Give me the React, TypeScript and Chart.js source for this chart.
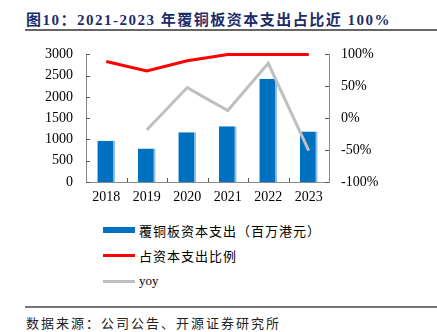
import React, { useEffect, useRef } from "react";
import { Chart, registerables } from "chart.js";

Chart.register(...registerables);

const years = ["2018", "2019", "2020", "2021", "2022", "2023"];
const capex = [970, 790, 1170, 1310, 2430, 1190];
const share = [89, 74, 90, 100, 100, 100];
const yoy: (number | null)[] = [null, -18.5, 48, 12, 86, -51];
const leftTicks = [0, 500, 1000, 1500, 2000, 2500, 3000];
const rightTicks = [-100, -50, 0, 50, 100];
const seriesNames = ["覆铜板资本支出（百万港元）", "占资本支出比例", "yoy"];

const BLUE = "#0070C0";
const RED = "#FF0000";
const GRAY = "#BFBFBF";
const AXIS = "#8c8c8c";
const SERIF = "'Liberation Serif', 'Noto Sans CJK SC', serif";
const CJK = "'Noto Sans CJK SC', 'Liberation Serif', serif";

const innerTicks = {
  id: "innerTicks",
  afterDraw(chart: any) {
    const { ctx, chartArea, scales } = chart;
    ctx.save();
    ctx.strokeStyle = "#555";
    ctx.lineWidth = 1;
    const yl = scales.y;
    yl.ticks.forEach((_: any, i: number) => {
      const y = Math.round(yl.getPixelForTick(i)) + 0.5;
      ctx.beginPath();
      ctx.moveTo(chartArea.left, y);
      ctx.lineTo(chartArea.left + 4, y);
      ctx.stroke();
    });
    const yr = scales.y1;
    yr.ticks.forEach((_: any, i: number) => {
      const y = Math.round(yr.getPixelForTick(i)) + 0.5;
      ctx.beginPath();
      ctx.moveTo(chartArea.right, y);
      ctx.lineTo(chartArea.right - 4, y);
      ctx.stroke();
    });
    const xs = scales.x;
    for (let i = 1; i < years.length; i++) {
      const x = Math.round(xs.getPixelForValue(i - 0.5)) + 0.5;
      ctx.beginPath();
      ctx.moveTo(x, chartArea.bottom);
      ctx.lineTo(x, chartArea.bottom - 4);
      ctx.stroke();
    }
    ctx.restore();
  },
};

export default function App() {
  const ref = useRef<HTMLCanvasElement>(null);

  useEffect(() => {
    if (!ref.current) return;
    const chart = new Chart(ref.current, {
      type: "bar",
      data: {
        labels: years,
        datasets: [
          {
            type: "line",
            label: seriesNames[1],
            data: share,
            yAxisID: "y1",
            borderColor: RED,
            backgroundColor: RED,
            borderWidth: 3,
            pointRadius: 0,
            tension: 0,
            clip: false as any,
            order: 1,
          },
          {
            type: "line",
            label: seriesNames[2],
            data: yoy,
            yAxisID: "y1",
            borderColor: GRAY,
            backgroundColor: GRAY,
            borderWidth: 3,
            pointRadius: 0,
            tension: 0,
            spanGaps: false,
            order: 1,
          },
          {
            type: "bar",
            label: seriesNames[0],
            data: capex,
            yAxisID: "y",
            backgroundColor: BLUE,
            borderColor: "#8fbde6",
            borderWidth: { top: 0, left: 0, bottom: 0, right: 2 } as any,
            borderSkipped: false as any,
            categoryPercentage: 1,
            barPercentage: 0.44,
            order: 2,
          },
        ],
      },
      options: {
        responsive: false,
        animation: false,
        devicePixelRatio: 1,
        layout: { padding: { top: 8, bottom: 0, left: 0, right: 0 } },
        plugins: {
          legend: { display: false },
          tooltip: { enabled: false },
          title: { display: false },
        },
        scales: {
          x: {
            offset: true,
            grid: { display: false, drawTicks: false },
            border: { display: true, color: AXIS, width: 1 },
            ticks: {
              color: "#000",
              font: { family: SERIF, size: 14 },
              padding: 7,
              maxRotation: 0,
            },
            afterFit(scale: any) {
              scale.height = 33;
            },
          },
          y: {
            position: "left",
            min: 0,
            max: 3000,
            afterBuildTicks(scale: any) {
              scale.ticks = leftTicks.map((v) => ({ value: v }));
            },
            grid: { display: false, drawTicks: false },
            border: { display: true, color: AXIS, width: 1 },
            ticks: {
              color: "#000",
              font: { family: SERIF, size: 14 },
              padding: 13,
              callback: (v: any) => String(v),
            },
            afterFit(scale: any) {
              scale.width = 86;
            },
          },
          y1: {
            position: "right",
            min: -100,
            max: 100,
            afterBuildTicks(scale: any) {
              scale.ticks = rightTicks.map((v) => ({ value: v }));
            },
            grid: { display: false, drawTicks: false },
            border: { display: true, color: AXIS, width: 1 },
            ticks: {
              color: "#000",
              font: { family: SERIF, size: 14 },
              padding: 12,
              callback: (v: any) => `${v}%`,
            },
            afterFit(scale: any) {
              scale.width = 108;
            },
          },
        },
      },
      plugins: [innerTicks],
    });
    return () => chart.destroy();
  }, []);

  const legendItem = (i: number, top: number) => {
    const swatch =
      i === 0
        ? { height: 6, background: BLUE }
        : { height: 3, background: i === 1 ? RED : GRAY };
    return (
      <div
        key={i}
        style={{
          position: "absolute",
          left: 103,
          top: top - 10,
          height: 20,
          display: "flex",
          alignItems: "center",
        }}
      >
        <div style={{ width: 32, ...swatch }} />
        <span
          style={{
            marginLeft: 4,
            fontFamily: i === 2 ? SERIF : CJK,
            fontSize: 13,
            letterSpacing: i === 2 ? 0 : 1,
            color: "#000",
            whiteSpace: "nowrap",
          }}
        >
          {seriesNames[i]}
        </span>
      </div>
    );
  };

  return (
    <div
      style={{
        position: "fixed",
        left: 0,
        top: 0,
        width: 437,
        height: 332,
        background: "#fff",
        overflow: "hidden",
      }}
    >
      <div
        style={{
          position: "absolute",
          left: 26,
          top: 8,
          fontFamily: SERIF,
          fontWeight: "bold",
          fontSize: 15,
          letterSpacing: 1.5,
          color: "#1b2c6b",
          whiteSpace: "nowrap",
        }}
      >
        图10：2021-2023 年覆铜板资本支出占比近 100%
      </div>
      <div
        style={{
          position: "absolute",
          left: 25,
          top: 29,
          width: 412,
          height: 2,
          background: "#666",
        }}
      />
      <canvas
        ref={ref}
        width={437}
        height={182}
        style={{ position: "absolute", left: 0, top: 33, width: 437, height: 182 }}
      />
      {legendItem(0, 230)}
      {legendItem(1, 255)}
      {legendItem(2, 281)}
      <div
        style={{
          position: "absolute",
          left: 25,
          top: 306,
          width: 412,
          height: 2,
          background: "#777",
        }}
      />
      <div
        style={{
          position: "absolute",
          left: 26,
          top: 313,
          fontFamily: CJK,
          fontSize: 13,
          letterSpacing: 2,
          color: "#222",
          whiteSpace: "nowrap",
        }}
      >
        数据来源：公司公告、开源证券研究所
      </div>
    </div>
  );
}
